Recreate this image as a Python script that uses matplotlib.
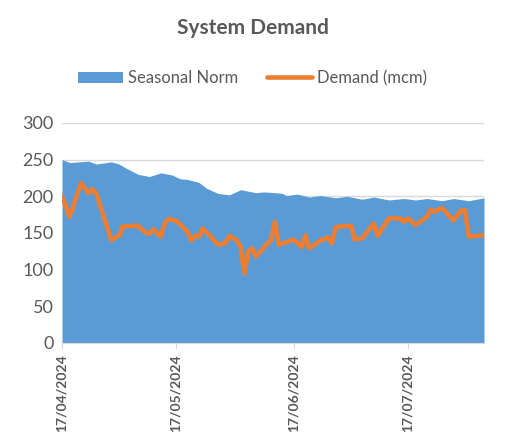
import matplotlib
matplotlib.use('Agg')
import matplotlib.pyplot as plt
import matplotlib.dates as mdates
import numpy as np
import pandas as pd
from matplotlib.patches import Patch
from matplotlib.lines import Line2D

START = pd.Timestamp('2024-04-17')

# seasonal norm (day offset from 17/04/2024, mcm)
norm_days = [0, 2, 7, 9, 13, 15, 17, 20, 23, 26, 28, 29, 31, 33, 36, 38, 41, 44, 47, 50,
             51, 53, 56, 58, 59, 62, 65, 68, 72, 75, 79, 82, 86, 90, 93, 96, 100, 103, 107, 110, 111]
norm_vals = [250, 246, 248, 244, 247, 244, 238, 230, 227, 232, 230, 229, 224, 223, 219, 211, 204, 202, 209, 206,
             205, 206, 205, 204, 201, 203, 199, 201, 198, 200, 196, 199, 195, 197, 195, 197, 194, 197, 194, 197, 198]

# demand (mcm)
dem_days = [0, 2, 5, 7, 8, 9, 13, 14, 15, 16, 20, 22, 23, 24, 26, 27, 28, 30, 33, 34,
            35, 36, 37, 39, 41, 43, 44, 46, 47, 48, 49, 50, 51, 55, 56, 57, 61, 63, 64, 65,
            68, 70, 71, 72, 76, 77, 79, 82, 83, 86, 89, 90, 91, 93, 96, 97, 98, 100, 103, 105,
            106, 107, 111]
dem_vals = [200, 172, 218, 204, 210, 204, 140, 144, 146, 159, 160, 150, 149, 155, 145, 163, 169, 167, 152, 140,
            146, 145, 156, 146, 134, 136, 146, 140, 131, 95, 125, 129, 118, 141, 165, 134, 141, 131, 147, 129,
            140, 144, 136, 158, 160, 141, 143, 163, 146, 170, 170, 165, 170, 161, 172, 182, 179, 184, 167, 181,
            181, 145, 147]

tick_dates = ['2024-04-17', '2024-05-17', '2024-06-17', '2024-07-17']

norm_x = START + pd.to_timedelta(norm_days, unit='D')
dem_x = START + pd.to_timedelta(dem_days, unit='D')

plt.rcParams['font.family'] = ['Lato', 'DejaVu Sans']
grey = '#595959'

fig = plt.figure(figsize=(5.05, 4.44), dpi=100)
ax = fig.add_axes([0.1228, 0.2275, 0.8356, 0.4955])

ax.fill_between(norm_x, norm_vals, 0, color='#5B9BD5', linewidth=0, zorder=2)
ax.plot(dem_x, dem_vals, color='#ED7D31', linewidth=3.3, solid_joinstyle='round', zorder=3)

ax.set_ylim(0, 300)
ax.set_yticks(range(0, 301, 50))
ax.set_xlim(START, START + pd.Timedelta(days=111))
ax.set_xticks(pd.to_datetime(tick_dates))
ax.xaxis.set_major_formatter(mdates.DateFormatter('%d/%m/%Y'))
ax.grid(axis='y', color='#D9D9D9', linewidth=1)
ax.set_axisbelow(True)
for s in ['top', 'right', 'left']:
    ax.spines[s].set_visible(False)
ax.spines['bottom'].set_color('#D9D9D9')
ax.tick_params(axis='y', length=0, labelsize=13, labelcolor=grey, pad=6)
ax.tick_params(axis='x', length=4, color='#D9D9D9', labelsize=10, labelcolor=grey, pad=4)
for lab in ax.get_xticklabels():
    lab.set_rotation(90)
    lab.set_fontweight('bold')

fig.text(0.5, 0.937, 'System Demand', ha='center', va='center', fontsize=15,
         fontweight='bold', color=grey)

handles = [Patch(facecolor='#5B9BD5', edgecolor='none'),
           Line2D([0], [0], color='#ED7D31', linewidth=3.3, solid_capstyle='round')]
fig.legend(handles, ['Seasonal Norm', 'Demand (mcm)'], loc='center', bbox_to_anchor=(0.5, 0.824),
           ncol=2, frameon=False, fontsize=12, labelcolor=grey, handlelength=2.7,
           handleheight=0.7, handletextpad=0.3, columnspacing=1.7)

fig.savefig('out.png', dpi=100)
